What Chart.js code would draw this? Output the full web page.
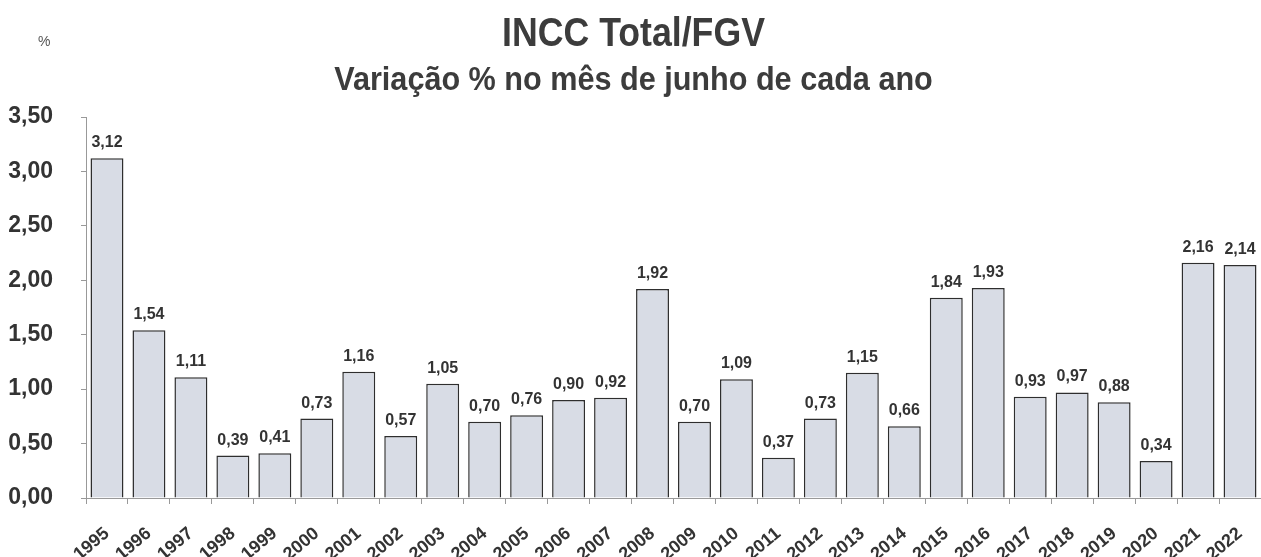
<!DOCTYPE html>
<html>
<head>
<meta charset="utf-8">
<script src="https://cdn.jsdelivr.net/npm/chart.js@4/dist/chart.umd.min.js"></script>
<style>
  html, body { margin: 0; padding: 0; background: #fff; }
  #wrap { position: relative; width: 1261px; height: 557px; overflow: hidden; }
  #chart { position: absolute; left: 0; top: 0; }
  .txt { position: absolute; left: 3px; width: 1261px; text-align: center; white-space: nowrap;
         font-family: "Liberation Sans", Arial, sans-serif; font-weight: bold; color: #3c3c3c; line-height: 1; }
  #title { top: 12px; font-size: 41px; transform: scaleX(0.87); }
  #subtitle { top: 61px; font-size: 34px; transform: scaleX(0.9); }
  #pct { position: absolute; left: 38px; top: 33px; font: 14px "Liberation Sans", Arial, sans-serif; color: #555; }
</style>
</head>
<body>
<div id="wrap">
  <canvas id="chart" width="1261" height="557"></canvas>
  <div id="title" class="txt">INCC Total/FGV</div>
  <div id="subtitle" class="txt">Variação % no mês de junho de cada ano</div>
  <div id="pct">%</div>
</div>
<script>
const years = ['1995', '1996', '1997', '1998', '1999', '2000', '2001', '2002', '2003', '2004',
    '2005', '2006', '2007', '2008', '2009', '2010', '2011', '2012', '2013', '2014',
    '2015', '2016', '2017', '2018', '2019', '2020', '2021', '2022']
const variacao = [3.12, 1.54, 1.11, 0.39, 0.41, 0.73, 1.16, 0.57, 1.05, 0.70,
    0.76, 0.90, 0.92, 1.92, 0.70, 1.09, 0.37, 0.73, 1.15, 0.66,
    1.84, 1.93, 0.93, 0.97, 0.88, 0.34, 2.16, 2.14]
const yMin = 0
const yMax = 3.5
const yStep = 0.5

const FONT = '"Liberation Sans", Arial, sans-serif'
const fmt = v => v.toFixed(2).replace('.', ',')

// value labels above each bar
const barLabels = {
    id: 'barLabels',
    afterDatasetsDraw(chart) {
        const ctx = chart.ctx
        const meta = chart.getDatasetMeta(0)
        ctx.save()
        ctx.font = 'bold 16px ' + FONT
        ctx.fillStyle = '#333'
        ctx.textAlign = 'center'
        ctx.textBaseline = 'alphabetic'
        meta.data.forEach((bar, i) => {
            ctx.fillText(fmt(variacao[i]), bar.x, bar.y - 11)
        })
        ctx.restore()
    }
}

new Chart(document.getElementById('chart'), {
    type: 'bar',
    data: {
        labels: years,
        datasets: [{
            data: variacao,
            backgroundColor: '#d8dce5',
            borderColor: '#2e2e2e',
            borderWidth: 1.5,
            barPercentage: 0.785,
            categoryPercentage: 1.0,
        }]
    },
    options: {
        responsive: false,
        animation: false,
        layout: { padding: { left: 0, right: -4, top: 117, bottom: 0 } },
        plugins: {
            legend: { display: false },
            tooltip: { enabled: false },
        },
        scales: {
            x: {
                grid: { display: true, drawOnChartArea: false, offset: true, tickLength: 6, color: '#999' },
                border: { color: '#999', dash: [2, 2] },
                ticks: {
                    color: '#333',
                    font: { family: FONT, size: 18, weight: 'bold' },
                    minRotation: 40,
                    maxRotation: 40,
                    autoSkip: false,
                    padding: 19,
                },
                afterFit(scale) {
                    scale.height = 59
                    // let the plot run to the right edge like the original
                    scale.paddingLeft = 0
                    scale.paddingRight = 0
                },
            },
            y: {
                min: yMin,
                max: yMax,
                grid: { display: true, drawOnChartArea: false, tickLength: 5, color: '#999' },
                border: { color: '#999', dash: [2, 2] },
                ticks: {
                    stepSize: yStep,
                    color: '#333',
                    font: { family: FONT, size: 23, weight: 'bold' },
                    padding: 28,
                    callback: v => fmt(v),
                },
                afterFit(scale) { scale.width = 86 },
            }
        }
    },
    plugins: [barLabels]
})
</script>
</body>
</html>
